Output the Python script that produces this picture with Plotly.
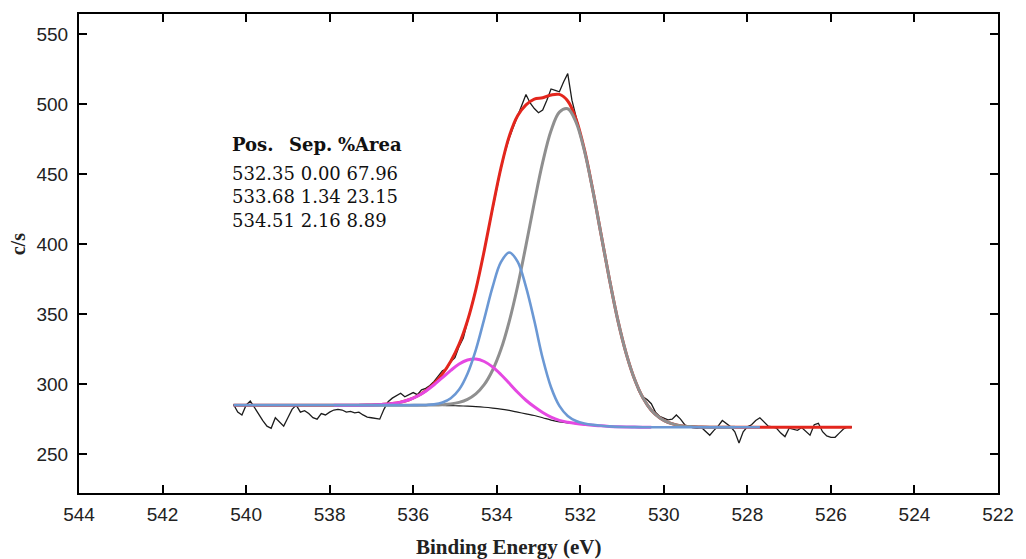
import numpy as np
import plotly.graph_objects as go

# Binding-energy grids (eV): measured spectrum at 0.1 eV, fitted curves at 0.2 eV
be_raw = [round(540.3 - 0.1 * i, 1) for i in range(149)]
be_fit = [round(540.3 - 0.2 * i, 1) for i in range(75)]

# O 1s measured counts (c/s)
counts_raw = [
    285.5, 280, 278, 285, 288, 283, 279, 274, 270, 268.5,
    276, 273, 270, 276, 282, 285, 280, 281, 279, 276,
    275, 279, 278, 280, 281.5, 282, 281.5, 280, 280.5, 279.5,
    280, 278, 276.5, 276, 275.5, 275, 282, 287.5, 290, 292,
    293.5, 291, 292.5, 294, 292.5, 296, 297, 299, 302, 306,
    309.5, 311, 316, 319, 327, 333, 344, 357, 368, 381,
    396, 411, 426, 440, 454, 466, 476, 484, 492, 500,
    507, 501, 497, 494, 496, 503, 511, 510, 509, 516,
    522, 503, 492, 479, 467, 455, 439, 423, 407, 391,
    375, 360, 346, 333, 322, 312, 303, 295, 291, 289,
    286, 280, 277, 276, 274.5, 275, 278, 275, 271, 269.5,
    269, 268.5, 269, 266, 263.5, 267, 270, 274, 272, 269.5,
    266, 258, 266, 269.5, 271, 274, 276, 273, 270, 269.5,
    268.5, 265, 262.5, 268.5, 267.5, 267, 269, 266, 263.5, 271,
    272, 266, 263, 262, 262, 265, 268, 269.5, 269.5,
]

# Shirley background (c/s)
background = [
    285.0, 285.0, 285.0, 285.0, 285.0, 285.0, 285.0, 285.0, 285.0, 285.0,
    285.0, 285.0, 285.0, 285.0, 285.0, 285.0, 285.0, 285.0, 285.0, 285.0,
    284.98, 284.97, 284.95, 284.91, 284.85, 284.77, 284.65, 284.48, 284.24, 283.93,
    283.5, 282.92, 282.2, 281.2, 280.0, 278.8, 277.6, 276.0, 274.3, 273.0,
    272.3, 271.7, 271.1, 270.6, 270.2, 269.8, 269.5, 269.35, 269.3, 269.25,
    269.2, 269.2, 269.2, 269.2, 269.2, 269.2, 269.2, 269.2, 269.2, 269.2,
    269.2, 269.2, 269.2, 269.2, 269.2, 269.2, 269.2, 269.2, 269.2, 269.2,
    269.2, 269.2, 269.2, 269.2, 269.2,
]

# Fitted components above background (c/s)
peak_532_35 = [
    0, 0, 0, 0, 0, 0, 0, 0, 0, 0,
    0, 0, 0, 0, 0, 0, 0, 0, 0, 0,
    0, 0, 0, 0.1, 0.2, 0.55, 1.2, 2.5, 4.9, 9.1,
    16.1, 27.0, 42.5, 63.7, 90.0, 120.4, 152.3, 182.5, 206.8, 221.5,
    224.6, 215.5, 195.6, 167.9, 136.4, 104.9, 76.1, 52.5, 34.2, 21.0,
    12.2, 6.8, 3.5, 1.7, 0.8, 0.4, 0.1, 0, 0, 0,
    0, 0, 0, 0, 0, 0, 0, 0, 0, 0,
    0, 0, 0, 0, 0,
]
peak_533_68 = [
    0, 0, 0, 0, 0, 0, 0, 0, 0, 0,
    0, 0, 0, 0, 0, 0, 0, 0, 0, 0,
    0, 0, 0.1, 0.2, 0.7, 2.1, 5.3, 11.7, 23.2, 40.6,
    63.0, 86.4, 105.0, 112.9, 107.6, 90.7, 67.7, 42.5, 23.5, 11.5,
    5.0, 2.0, 0.8, 0.3, 0.1, 0, 0, 0, 0, 0,
    0, 0, 0, 0, 0, 0, 0, 0, 0, 0,
    0, 0, 0, 0, 0, 0, 0, 0, 0, 0,
    0, 0, 0, 0, 0,
]
peak_534_51 = [
    0, 0, 0, 0, 0, 0, 0, 0, 0, 0,
    0, 0, 0, 0, 0, 0, 0.1, 0.3, 0.6, 1.2,
    2.2, 3.9, 6.5, 10.1, 14.7, 19.9, 25.2, 29.9, 33.0, 34.0,
    32.7, 29.4, 24.7, 19.4, 14.2, 9.7, 6.2, 3.7, 2.1, 1.1,
    0.5, 0.2, 0.1, 0, 0, 0, 0, 0, 0, 0,
    0, 0, 0, 0, 0, 0, 0, 0, 0, 0,
    0, 0, 0, 0, 0, 0, 0, 0, 0, 0,
    0, 0, 0, 0, 0,
]

# Fit summary table
table_header = ["Pos.", "Sep.", "%Area"]
table_pos = ["532.35", "533.68", "534.51"]
table_sep = ["0.00", "1.34", "2.16"]
table_area = ["67.96", "23.15", "8.89"]

x_ticks = list(range(544, 521, -2))
y_ticks = [250, 300, 350, 400, 450, 500, 550]

bg = np.array(background)
grey = bg + np.array(peak_532_35)
blue = bg + np.array(peak_533_68)
magenta = bg + np.array(peak_534_51)
envelope = bg + np.array(peak_532_35) + np.array(peak_533_68) + np.array(peak_534_51)
fx = np.array(be_fit)

fig = go.Figure()
fig.add_trace(go.Scatter(x=be_raw, y=counts_raw, mode="lines",
                         line=dict(color="#1c1c1c", width=1.3)))
fig.add_trace(go.Scatter(x=fx, y=bg, mode="lines",
                         line=dict(color="#1c1c1c", width=1.2, shape="spline")))
fig.add_trace(go.Scatter(x=fx, y=envelope, mode="lines",
                         line=dict(color="#e3261d", width=3, shape="spline")))
g_sl = slice(15, 61)
fig.add_trace(go.Scatter(x=fx[g_sl], y=grey[g_sl], mode="lines",
                         line=dict(color="#8f8f8f", width=3, shape="spline")))
m_sl = slice(12, 51)
fig.add_trace(go.Scatter(x=fx[m_sl], y=magenta[m_sl], mode="lines",
                         line=dict(color="#e548e2", width=3, shape="spline")))
b_sl = slice(0, 64)
fig.add_trace(go.Scatter(x=fx[b_sl], y=blue[b_sl], mode="lines",
                         line=dict(color="#6b98d4", width=2.6, shape="spline")))

axis_common = dict(
    showgrid=False, zeroline=False, showline=True, linewidth=2, linecolor="black",
    mirror="ticks", ticks="inside", ticklen=8, tickwidth=1.5, tickcolor="black",
    tickfont=dict(family="Liberation Sans, Arial, sans-serif", size=19, color="#222222"),
)
fig.update_xaxes(range=[544, 522], tickmode="array", tickvals=x_ticks,
                 ticktext=[str(v) for v in x_ticks], ticklabelstandoff=3, **axis_common)
fig.update_yaxes(range=[222.2, 564.6], tickmode="array", tickvals=y_ticks,
                 ticktext=[str(v) for v in y_ticks], ticklabelstandoff=5, **axis_common)

serif = "Liberation Serif, Times New Roman, serif"
fig.add_annotation(text="<b>Binding Energy (eV)</b>", xref="paper", yref="paper",
                   x=0.468, y=-0.113, xanchor="center", yanchor="middle", showarrow=False,
                   font=dict(family=serif, size=21, color="#222222"))
fig.add_annotation(text="<b>c/s</b>", xref="paper", yref="paper",
                   x=-0.066, y=0.52, xanchor="center", yanchor="middle", textangle=-90,
                   showarrow=False, font=dict(family=serif, size=20, color="#222222"))

# Table of peak positions, separations and area fractions
table_font = "DejaVu Serif, serif"
col_x_head = [0.1643, 0.226, 0.28]
for cx, h in zip(col_x_head, table_header):
    fig.add_annotation(text=f"<b>{h}</b>", xref="paper", yref="paper", x=cx, y=0.7284,
                       xanchor="left", yanchor="middle", showarrow=False,
                       font=dict(family=table_font, size=18, color="#111111"))
row_y = [0.668, 0.618, 0.568]
for ry, p, s, a in zip(row_y, table_pos, table_sep, table_area):
    fig.add_annotation(text=f"{p} {s} {a}", xref="paper", yref="paper", x=0.1643, y=ry,
                       xanchor="left", yanchor="middle", showarrow=False,
                       font=dict(family=table_font, size=18, color="#111111"))

fig.update_layout(
    width=1026, height=559, showlegend=False,
    margin=dict(l=79, r=22, t=12, b=66),
    paper_bgcolor="white", plot_bgcolor="white",
)
fig.write_html("out.html")
